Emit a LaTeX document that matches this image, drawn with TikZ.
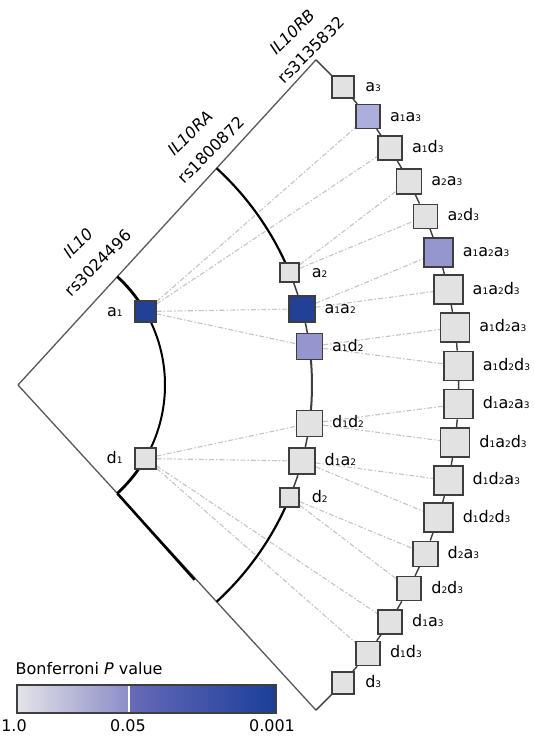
\documentclass[tikz,border=0pt]{standalone}
\usepackage{fontspec}
\setmainfont{DejaVu Sans}
\usetikzlibrary{calc}
\pgfdeclarelayer{bg}
\pgfsetlayers{bg,main}
\definecolor{dblue}{RGB}{33,64,150}
\definecolor{mpurp}{RGB}{150,150,206}
\definecolor{lpurp}{RGB}{172,174,222}
\definecolor{lgrey}{RGB}{226,226,226}
\definecolor{bord}{RGB}{62,62,62}
\definecolor{edgec}{RGB}{88,88,88}
\definecolor{conn}{RGB}{196,196,196}
\definecolor{cbA}{RGB}{228,228,232}
\definecolor{cbB}{RGB}{140,140,200}
\definecolor{cbC}{RGB}{104,106,184}
\definecolor{cbD}{RGB}{26,62,152}
\newcommand{\sbs}[1]{{\fontsize{9pt}{9pt}\selectfont #1}}
\begin{document}
\begin{tikzpicture}[x=1pt,y=1pt,
  font=\fontsize{16pt}{19pt}\selectfont,
  bx/.style={draw=bord, line width=1.4pt, inner sep=0pt, minimum size=#1, fill=lgrey},
  lbl/.style={inner sep=0pt},
  gt/.style={inner sep=0pt, rotate=45},
  cn/.style={conn, line width=1.1pt, dash pattern=on 5pt off 2pt on 1.5pt off 2pt},
  arcline/.style={black, line width=#1}]
\useasboundingbox (0,0) rectangle (534,-737);
\coordinate (O) at (18,-385);
\coordinate (TC) at ($(O)+(47.5:441)$);
\coordinate (BC) at ($(O)+(-47.5:441)$);
\coordinate (T1) at ($(O)+(47.5:147)$);
\coordinate (B1) at ($(O)+(-47.5:147)$);
\coordinate (T2) at ($(O)+(47.5:294)$);
\coordinate (B2) at ($(O)+(-47.5:294)$);
\coordinate (BT) at ($(O)+(-47.8:263)$);

% level 1
\node[bx=21, fill=dblue] (a1) at ($(O)+(30:147)$) {};
\node[bx=21] (d1) at ($(O)+(-30:147)$) {};
\node[lbl, anchor=base east] (La1) at ([xshift=-22.5pt, yshift=-4.5pt]a1.center) {a\sbs{1}};
\node[lbl, anchor=base east] (Ld1) at ([xshift=-22.5pt, yshift=-4.5pt]d1.center) {d\sbs{1}};

% level 2
\foreach \ang/\n/\s/\c/\t in {
  22.5/a2/19/lgrey/{a\sbs{2}},
  15/a1a2/26/dblue/{a\sbs{1}a\sbs{2}},
  7.5/a1d2/26/mpurp/{a\sbs{1}d\sbs{2}},
  -7.5/d1d2/26/lgrey/{d\sbs{1}d\sbs{2}},
  -15/d1a2/26/lgrey/{d\sbs{1}a\sbs{2}},
  -22.5/d2/19/lgrey/{d\sbs{2}}}
{
  \node[bx=\s, fill=\c] (\n) at ($(O)+(\ang:294)$) {};
  \pgfmathsetmacro\dx{max(22,\s/2+9.5)}
  \node[lbl, anchor=base west] (L\n) at ([xshift=\dx pt, yshift=-4.5pt]\n.center) {\t};
}

% level 3
\foreach \n/\s/\c/\t [count=\i from 0] in {
  a3/22/lgrey/{a\sbs{3}},
  a1a3/24/lpurp/{a\sbs{1}a\sbs{3}},
  a1d3/24/lgrey/{a\sbs{1}d\sbs{3}},
  a2a3/25/lgrey/{a\sbs{2}a\sbs{3}},
  a2d3/24/lgrey/{a\sbs{2}d\sbs{3}},
  a1a2a3/29/mpurp/{a\sbs{1}a\sbs{2}a\sbs{3}},
  a1a2d3/29/lgrey/{a\sbs{1}a\sbs{2}d\sbs{3}},
  a1d2a3/29/lgrey/{a\sbs{1}d\sbs{2}a\sbs{3}},
  a1d2d3/29/lgrey/{a\sbs{1}d\sbs{2}d\sbs{3}},
  d1a2a3/29/lgrey/{d\sbs{1}a\sbs{2}a\sbs{3}},
  d1a2d3/29/lgrey/{d\sbs{1}a\sbs{2}d\sbs{3}},
  d1d2a3/29/lgrey/{d\sbs{1}d\sbs{2}a\sbs{3}},
  d1d2d3/29/lgrey/{d\sbs{1}d\sbs{2}d\sbs{3}},
  d2a3/25/lgrey/{d\sbs{2}a\sbs{3}},
  d2d3/24/lgrey/{d\sbs{2}d\sbs{3}},
  d1a3/24/lgrey/{d\sbs{1}a\sbs{3}},
  d1d3/24/lgrey/{d\sbs{1}d\sbs{3}},
  d3/22/lgrey/{d\sbs{3}}}
{
  \pgfmathsetmacro\ang{42.5-5*\i}
  \node[bx=\s, fill=\c] (\n) at ($(O)+(\ang:441)$) {};
  \pgfmathsetmacro\dx{max(22,\s/2+9.5)}
  \node[lbl, anchor=base west] (L\n) at ([xshift=\dx pt, yshift=-4.5pt]\n.center) {\t};
}

\begin{pgfonlayer}{bg}
  % connectors
  \draw[cn] (a1) -- (a1a2);
  \draw[cn] (a1) -- (a1d2);
  \draw[cn] (a1) -- (a1a3);
  \draw[cn] (a1) -- (a1d3);
  \draw[cn] (d1) -- (d1d2);
  \draw[cn] (d1) -- (d1a2);
  \draw[cn] (d1) -- (d1a3);
  \draw[cn] (d1) -- (d1d3);
  \draw[cn] (a2) -- (a2a3);
  \draw[cn] (a2) -- (a2d3);
  \draw[cn] (a1a2) -- (a1a2a3);
  \draw[cn] (a1a2) -- (a1a2d3);
  \draw[cn] (a1d2) -- (a1d2a3);
  \draw[cn] (a1d2) -- (a1d2d3);
  \draw[cn] (d1d2) -- (d1a2a3);
  \draw[cn] (d1d2) -- (d1a2d3);
  \draw[cn] (d1a2) -- (d1d2a3);
  \draw[cn] (d1a2) -- (d1d2d3);
  \draw[cn] (d2) -- (d2a3);
  \draw[cn] (d2) -- (d2d3);
  % wedge edges
  \draw[edgec, line width=1.3pt, line join=round] (TC) -- (O) -- (BC);
  \draw[black, line width=2.6pt] (B1) -- (BT);
  % arc 1
  \draw[arcline=2.8pt] (T1) arc[start angle=47.5, end angle=30, radius=147];
  \draw[arcline=2pt] ($(O)+(30:147)$) arc[start angle=30, end angle=-30, radius=147];
  \draw[arcline=2.8pt] ($(O)+(-30:147)$) arc[start angle=-30, end angle=-47.5, radius=147];
  % arc 2
  \draw[arcline=2.2pt] (T2) arc[start angle=47.5, end angle=22.5, radius=294];
  \draw[bord, line width=1.5pt] ($(O)+(22.5:294)$) arc[start angle=22.5, end angle=7.5, radius=294];
  \draw[bord, line width=2pt] ($(O)+(7.5:294)$) arc[start angle=7.5, end angle=-7.5, radius=294];
  \draw[bord, line width=1.5pt] ($(O)+(-7.5:294)$) arc[start angle=-7.5, end angle=-22.5, radius=294];
  \draw[arcline=2.2pt] ($(O)+(-22.5:294)$) arc[start angle=-22.5, end angle=-47.5, radius=294];
  % level 3 chain
  \draw[bord, line width=1.4pt] (TC) -- (a3) -- (a1a3) -- (a1d3) -- (a2a3) -- (a2d3)
    -- (a1a2a3) -- (a1a2d3) -- (a1d2a3) -- (a1d2d3) -- (d1a2a3) -- (d1a2d3)
    -- (d1d2a3) -- (d1d2d3) -- (d2a3) -- (d2d3) -- (d1a3) -- (d1d3) -- (d3) -- (BC);
\end{pgfonlayer}

% gene labels
\node[gt, font=\fontsize{16pt}{19pt}\selectfont\itshape] (g1) at (78,-243) {IL10};
\node[gt] (s1) at (98,-263) {rs3024496};
\node[gt, font=\fontsize{16pt}{19pt}\selectfont\itshape] (g2) at (190,-133) {IL10RA};
\node[gt] (s2) at (211,-150) {rs1800872};
\node[gt, font=\fontsize{16pt}{19pt}\selectfont\itshape] (g3) at (292,-32) {IL10RB};
\node[gt] (s3) at (311,-50) {rs3135832};

% colour bar
\node[lbl, anchor=base west] (cbt) at (15.5,-674) {Bonferroni \textit{P} value};
\shade[left color=cbA, right color=cbB] (17,-685) rectangle (129,-713);
\shade[left color=cbC, right color=cbD] (129,-685) rectangle (276,-713);
\draw[white, line width=1.5pt] (129,-686) -- (129,-712);
\draw[bord, line width=1.4pt] (17,-685) rectangle (276,-713);
\node[lbl] (v1) at (14,-726) {1.0};
\node[lbl] (v2) at (128,-726) {0.05};
\node[lbl] (v3) at (272,-726) {0.001};
\end{tikzpicture}
\end{document}
